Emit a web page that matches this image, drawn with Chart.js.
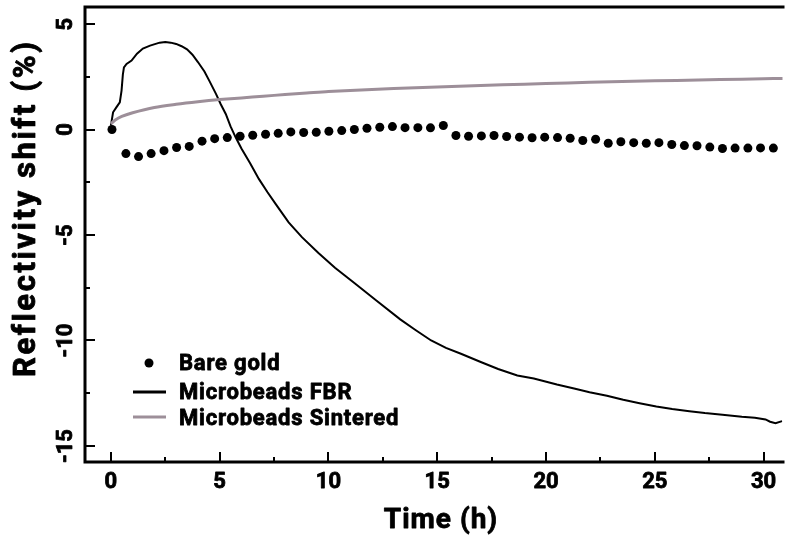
<!DOCTYPE html>
<html>
<head>
<meta charset="utf-8">
<script src="https://cdn.jsdelivr.net/npm/chart.js@4/dist/chart.umd.min.js"></script>
<style>
  body { margin: 0; background: #fff; }
  #wrap { width: 787px; height: 538px; }
</style>
</head>
<body>
<div id="wrap"><canvas id="shiftChart" width="787" height="538"></canvas></div>
<script>
// Bare gold (dots)
const goldTime = [0.05, 0.69, 1.27, 1.85, 2.44, 3.02, 3.60, 4.19, 4.77, 5.35, 5.94, 6.52, 7.11, 7.69, 8.27, 8.86, 9.44, 10.02, 10.61, 11.19, 11.77, 12.36, 12.94, 13.52, 14.11, 14.69, 15.28, 15.86, 16.44, 17.03, 17.61, 18.19, 18.78, 19.36, 19.94, 20.53, 21.11, 21.69, 22.28, 22.86, 23.44, 24.03, 24.61, 25.19, 25.78, 26.36, 26.94, 27.53, 28.11, 28.69, 29.28, 29.86, 30.45];
const goldShift = [0, -1.14, -1.28, -1.14, -1.0, -0.85, -0.8, -0.55, -0.43, -0.38, -0.32, -0.27, -0.22, -0.18, -0.11, -0.14, -0.13, -0.08, -0.05, 0, 0.06, 0.11, 0.14, 0.09, 0.09, 0.08, 0.19, -0.28, -0.32, -0.30, -0.28, -0.33, -0.36, -0.39, -0.36, -0.38, -0.41, -0.52, -0.46, -0.65, -0.58, -0.62, -0.65, -0.62, -0.71, -0.76, -0.77, -0.83, -0.9, -0.88, -0.88, -0.87, -0.88];

// Microbeads FBR (black line)
const fbrTime = [0, 0.1, 0.25, 0.41, 0.49, 0.55, 0.6, 0.72, 0.95, 1.2, 1.47, 1.8, 2.24, 2.5, 2.75, 3.0, 3.25, 3.5, 3.75, 4.0, 4.3, 4.52, 4.83, 5.05, 5.28, 5.5, 5.74, 6.0, 6.4, 6.8, 7.2, 7.57, 8.17, 8.78, 9.54, 10.3, 11.22, 12.2, 13.3, 14.0, 14.72, 15.4, 16.09, 17.0, 17.8, 18.68, 19.44, 20.5, 21.34, 22.0, 22.8, 23.55, 24.3, 25.07, 25.8, 26.59, 27.3, 28.11, 29.0, 29.6, 30.09, 30.3, 30.55, 30.85];
const fbrShift = [0.19, 0.82, 1.05, 1.29, 1.85, 2.6, 2.95, 3.11, 3.27, 3.6, 3.84, 3.98, 4.12, 4.15, 4.12, 4.06, 3.95, 3.8, 3.55, 3.2, 2.75, 2.32, 1.69, 1.2, 0.74, 0.15, -0.38, -0.9, -1.6, -2.34, -2.97, -3.52, -4.4, -5.1, -5.85, -6.55, -7.3, -8.1, -9.0, -9.5, -10.0, -10.35, -10.63, -11.02, -11.35, -11.66, -11.8, -12.09, -12.29, -12.45, -12.62, -12.81, -12.97, -13.13, -13.25, -13.35, -13.44, -13.52, -13.62, -13.66, -13.74, -13.85, -13.92, -13.82];

// Microbeads Sintered (grey line)
const sintTime = [0, 0.2, 0.5, 1, 2, 3, 4, 5, 6, 7, 8, 9, 10, 12, 14, 16, 18, 20, 22, 24, 26, 28, 30, 30.9];
const sintShift = [0.27, 0.45, 0.62, 0.8, 1.05, 1.2, 1.32, 1.42, 1.5, 1.58, 1.66, 1.73, 1.8, 1.9, 1.98, 2.05, 2.12, 2.18, 2.24, 2.29, 2.33, 2.37, 2.41, 2.42];

// Axis ticks
const xTicks = [0, 5, 10, 15, 20, 25, 30];
const yTicks = [5, 0, -5, -10, -15];
const legendLabels = ["Bare gold", "Microbeads FBR", "Microbeads Sintered"];

const GREY = "#9d8f99";
const FONT = "Roboto, 'Noto Sans', sans-serif";

function toPoints(xs, ys) {
  return xs.map(function (x, i) { return { x: x, y: ys[i] }; });
}

// heavy text: fill plus a thin stroke, the original looks blacker than Roboto Bold
function heavyText(ctx, text, x, y) {
  ctx.fillText(text, x, y);
  ctx.strokeText(text, x, y);
}

// Axes, inward ticks, labels and legend drawn by hand (original style)
const axesPlugin = {
  id: "axesPlugin",
  afterDraw: function (chart) {
    const ctx = chart.ctx;
    const a = chart.chartArea;
    const xs = chart.scales.x;
    const ys = chart.scales.y;
    ctx.save();
    ctx.strokeStyle = "#000";
    ctx.fillStyle = "#000";

    // frame: left, top, bottom
    ctx.lineWidth = 3;
    ctx.beginPath();
    ctx.moveTo(a.right + 2, a.top);
    ctx.lineTo(a.left, a.top);
    ctx.lineTo(a.left, a.bottom);
    ctx.lineTo(a.right + 2, a.bottom);
    ctx.stroke();

    // ticks
    ctx.lineWidth = 2;
    ctx.beginPath();
    for (let v = 0; v <= 30; v += 2.5) {
      const px = Math.round(xs.getPixelForValue(v));
      const len = v % 5 === 0 ? 10 : 5;
      ctx.moveTo(px, a.bottom);
      ctx.lineTo(px, a.bottom - len);
    }
    for (let v = -15; v <= 5; v += 2.5) {
      const py = Math.round(ys.getPixelForValue(v));
      const len = v % 5 === 0 ? 10 : 5;
      ctx.moveTo(a.left, py);
      ctx.lineTo(a.left + len, py);
    }
    ctx.stroke();

    ctx.lineWidth = 0.8;
    ctx.lineJoin = "round";

    // x tick labels
    ctx.font = "bold 22px " + FONT;
    ctx.textAlign = "center";
    ctx.textBaseline = "alphabetic";
    xTicks.forEach(function (v) {
      heavyText(ctx, String(v), xs.getPixelForValue(v), 488);
    });

    // y tick labels (rotated)
    yTicks.forEach(function (v) {
      ctx.save();
      ctx.translate(72, ys.getPixelForValue(v));
      ctx.rotate(-Math.PI / 2);
      heavyText(ctx, String(v), 0, 0);
      ctx.restore();
    });

    // axis titles
    ctx.font = "bold 28px " + FONT;
    ctx.letterSpacing = "1px";
    heavyText(ctx, "Time (h)", 441, 528);
    ctx.save();
    ctx.translate(35, 377);
    ctx.rotate(-Math.PI / 2);
    ctx.font = "bold 31px " + FONT;
    ctx.letterSpacing = "0px";
    const title = "Reflectivity shift (%)";
    const w = ctx.measureText(title).width;
    ctx.letterSpacing = Math.max(0, (335 - w) / (title.length - 1)).toFixed(2) + "px";
    ctx.textAlign = "left";
    heavyText(ctx, title, 0, 0);
    ctx.restore();

    // legend
    ctx.font = "bold 22px " + FONT;
    ctx.letterSpacing = "0.8px";
    ctx.textAlign = "left";
    ctx.beginPath();
    ctx.arc(149, 363, 4.5, 0, Math.PI * 2);
    ctx.fill();
    heavyText(ctx, legendLabels[0], 179, 370);
    heavyText(ctx, legendLabels[1], 179, 399);
    heavyText(ctx, legendLabels[2], 179, 425);
    ctx.lineWidth = 3;
    ctx.beginPath();
    ctx.moveTo(133, 392);
    ctx.lineTo(166, 392);
    ctx.stroke();
    ctx.strokeStyle = GREY;
    ctx.beginPath();
    ctx.moveTo(133, 417);
    ctx.lineTo(166, 417);
    ctx.stroke();
    ctx.restore();
  },
};

const config = {
  type: "line",
  data: {
    datasets: [
      {
        label: legendLabels[2],
        data: toPoints(sintTime, sintShift),
        borderColor: GREY,
        borderWidth: 3,
        pointRadius: 0,
        tension: 0.3,
      },
      {
        label: legendLabels[1],
        data: toPoints(fbrTime, fbrShift),
        borderColor: "#000",
        borderWidth: 2,
        pointRadius: 0,
        tension: 0,
      },
      {
        label: legendLabels[0],
        data: toPoints(goldTime, goldShift),
        showLine: false,
        pointRadius: 4.5,
        pointBackgroundColor: "#000",
        pointBorderWidth: 0,
      },
    ],
  },
  options: {
    responsive: false,
    animation: false,
    layout: { padding: { left: 85, top: 7, right: 0, bottom: 76 } },
    scales: {
      x: { type: "linear", min: -1.19, max: 30.87, display: false },
      y: { type: "linear", min: -15.76, max: 5.81, display: false },
    },
    plugins: {
      legend: { display: false },
      tooltip: { enabled: false },
    },
  },
  plugins: [axesPlugin],
};

document.addEventListener("DOMContentLoaded", function () {
  const ctx = document.getElementById("shiftChart");
  if (ctx) {
    new Chart(ctx, config);
  }
});
</script>
</body>
</html>
